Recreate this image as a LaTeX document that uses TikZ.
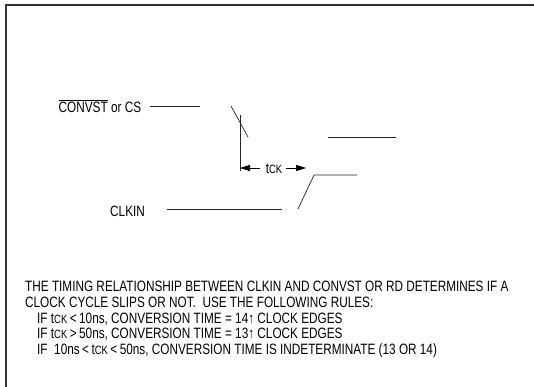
\documentclass[tikz,border=0pt]{standalone}
\usepackage{fontspec}
\setmainfont[FakeStretch=0.785]{Liberation Sans}
\usetikzlibrary{arrows.meta}
\newcommand{\tck}{t{\fontsize{12}{14}\selectfont CK}}
\begin{document}
\begin{tikzpicture}[x=1pt,y=-1pt,
  sig/.style={line width=0.7pt,black!85},
  frame/.style={line width=1.3pt,black!80},
  lbl/.style={font=\fontsize{15}{17}\selectfont,inner sep=0pt},
  note/.style={font=\fontsize{15}{15.7}\selectfont,inner sep=0pt,align=left},
  dim/.style={line width=0.7pt,-{Triangle[length=10pt,width=6pt]}}]
\useasboundingbox (0,0) rectangle (534,387);
\fill[white] (0,0) rectangle (534,387);
% frame
\draw[frame] (6,387) -- (6,5) -- (534,5);
% CONVST
\node[lbl,anchor=west] (cs) at (58.5,106) {$\overline{\mbox{CONVST}}$ or CS};
\coordinate (csA) at (150,106);
\coordinate (csB) at (200,106);
\draw[sig] (csA) -- (csB);
\coordinate (fA) at (231,106);
\coordinate (fB) at (248,137);
\draw[sig] (fA) -- (fB);
\coordinate (csH1) at (328,137);
\coordinate (csH2) at (396,137);
\draw[sig] (csH1) -- (csH2);
% reference vertical
\coordinate (vTop) at (240,115);
\coordinate (vBot) at (240,171);
\draw[sig] (vTop) -- (vBot);
% tCK
\node[lbl] (tck) at (274,169) {\tck};
\coordinate (aL) at (240,168);
\coordinate (aLt) at (260,168);
\coordinate (aR) at (306,168);
\coordinate (aRt) at (286,168);
\draw[dim] (aLt) -- (aL);
\draw[dim] (aRt) -- (aR);
% CLKIN
\node[lbl,anchor=west] (clk) at (110,211) {CLKIN};
\coordinate (ckA) at (167,209);
\coordinate (ckB) at (282,209);
\draw[sig] (ckA) -- (ckB);
\coordinate (rA) at (298,209);
\coordinate (rB) at (314,175);
\coordinate (rC) at (357,175);
\draw[sig] (rA) -- (rB) -- (rC);
% notes
\node[note,anchor=north west] (notes) at (25,281) {THE TIMING RELATIONSHIP BETWEEN CLKIN AND CONVST OR RD DETERMINES IF A\\
CLOCK CYCLE SLIPS OR NOT.\ \ USE THE FOLLOWING RULES:\\
\hspace*{12pt}IF \tck\,{<}\,10ns, CONVERSION TIME = 14↑ CLOCK EDGES\\
\hspace*{12pt}IF \tck\,{>}\,50ns, CONVERSION TIME = 13↑ CLOCK EDGES\\
\hspace*{12pt}IF\ \ 10ns\,{<}\,\tck\,{<}\,50ns, CONVERSION TIME IS INDETERMINATE (13 OR 14)};
\end{tikzpicture}
\end{document}
